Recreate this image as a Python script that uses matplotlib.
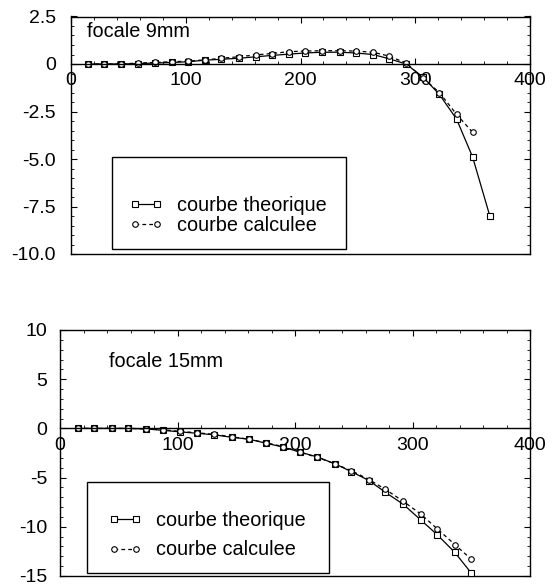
import numpy as np
import matplotlib
matplotlib.use("Agg")
import matplotlib.pyplot as plt
from matplotlib.patches import Rectangle
from matplotlib.lines import Line2D
from matplotlib.ticker import MultipleLocator

plt.rcParams['font.family'] = ['Liberation Sans', 'DejaVu Sans']
plt.rcParams['axes.unicode_minus'] = False

# focale 9mm
x_9 = [15, 29, 44, 58, 73, 88, 102, 117, 131, 146, 161, 175, 190,
       204, 219, 234, 248, 263, 277, 292, 307, 321, 336, 350, 365]
theo_9 = [0.0, 0.0, 0.0, 0.02, 0.05, 0.08, 0.12, 0.2, 0.25, 0.3, 0.38, 0.45, 0.52,
          0.58, 0.62, 0.62, 0.58, 0.5, 0.28, 0.0, -0.7, -1.6, -2.9, -4.9, -8.0]
calc_9 = [0.0, 0.0, 0.0, 0.05, 0.08, 0.12, 0.15, 0.22, 0.3, 0.38, 0.48, 0.55, 0.65,
          0.68, 0.7, 0.7, 0.68, 0.62, 0.42, 0.05, -0.75, -1.5, -2.65, -3.6]

# focale 15mm
x_15 = [15, 29, 44, 58, 73, 88, 102, 117, 131, 146, 161, 175,
        190, 204, 219, 234, 248, 263, 277, 292, 307, 321, 336, 350]
theo_15 = [0.0, 0.0, 0.0, 0.0, -0.05, -0.2, -0.35, -0.5, -0.65, -0.9, -1.1, -1.5,
           -1.9, -2.4, -2.9, -3.6, -4.4, -5.3, -6.5, -7.7, -9.3, -10.8, -12.6, -14.7]
calc_15 = [0.0, 0.0, 0.0, 0.0, -0.05, -0.15, -0.3, -0.45, -0.6, -0.85, -1.1, -1.45,
           -1.85, -2.4, -2.95, -3.6, -4.3, -5.2, -6.2, -7.4, -8.7, -10.2, -11.8, -13.3]

labels = ["courbe theorique", "courbe calculee"]
fs = 14
fs_leg = 14.3

W, H = 554, 584
fig = plt.figure(figsize=(W / 100, H / 100), dpi=100)


def setup(ax, ylim, ymajor, yminor, ypad):
    ax.set_xlim(0, 400)
    ax.set_ylim(*ylim)
    ax.spines['bottom'].set_position(('data', 0))
    ax.plot([0, 1], [0, 0], transform=ax.transAxes, color='k', lw=1.0, clip_on=False)
    for s in ax.spines.values():
        s.set_linewidth(1.0)
    ax.set_xticks([0, 100, 200, 300, 400])
    ax.xaxis.set_minor_locator(MultipleLocator(20))
    ax.yaxis.set_major_locator(MultipleLocator(ymajor))
    ax.yaxis.set_minor_locator(MultipleLocator(yminor))
    ax.tick_params(axis='both', which='major', direction='in', length=4, width=0.8,
                   labelsize=fs, top=True, right=True)
    ax.tick_params(axis='both', which='minor', direction='in', length=2, width=0.6,
                   top=True, right=True)
    ax.tick_params(axis='y', pad=ypad)
    ax.tick_params(axis='x', pad=6)


def draw_legend(ax, anchor, spacing, box):
    h1 = Line2D([], [], color='k', lw=0.9, marker='s', ms=4, mfc='white', mew=0.8)
    h2 = Line2D([], [], color='k', lw=0.9, ls=(0, (3, 2.5)), marker='o', ms=4,
                mfc='white', mew=0.8)
    ax.legend([h1, h2], labels, loc='upper left', bbox_to_anchor=anchor, frameon=False,
              numpoints=2, fontsize=fs_leg, borderpad=0, borderaxespad=0,
              handlelength=1.7, handletextpad=0.7, labelspacing=spacing)
    x0, y0, x1, y1 = box
    ax.add_patch(Rectangle((x0, y0), x1 - x0, y1 - y0, transform=ax.transAxes,
                           fill=False, ec='k', lw=1.0, zorder=4))


# top panel
ax1 = fig.add_axes([71 / W, 1 - 254 / H, 459 / W, 237.5 / H])
setup(ax1, (-10, 2.5), 2.5, 0.5, 11)
ax1.yaxis.set_major_formatter(lambda v, p: '0' if abs(v) < 1e-9 else f'{v:.1f}')
ax1.plot(x_9, theo_9, color='k', lw=0.9, marker='s', ms=4, mfc='white', mew=0.8)
ax1.plot(x_9[:len(calc_9)], calc_9, color='k', lw=0.9, ls=(0, (3, 2.5)),
         marker='o', ms=4, mfc='white', mew=0.8)
ax1.text(0.035, 0.935, "focale 9mm", transform=ax1.transAxes, fontsize=fs_leg, va='center')
draw_legend(ax1, (0.126, 0.245), 0.05, (0.089, 0.021, 0.599, 0.408))

# bottom panel
ax2 = fig.add_axes([60 / W, 1 - 576 / H, 470 / W, 246 / H])
setup(ax2, (-15, 10), 5, 1, 9)
ax2.yaxis.set_major_formatter(lambda v, p: f'{v:.0f}')
ax2.plot(x_15, theo_15, color='k', lw=0.9, marker='s', ms=4, mfc='white', mew=0.8)
ax2.plot(x_15, calc_15, color='k', lw=0.9, ls=(0, (3, 2.5)),
         marker='o', ms=4, mfc='white', mew=0.8)
ax2.text(0.104, 0.870, "focale 15mm", transform=ax2.transAxes, fontsize=fs_leg, va='center')
draw_legend(ax2, (0.102, 0.266), 0.55, (0.057, 0.012, 0.572, 0.382))

fig.savefig("out.png", dpi=100)
